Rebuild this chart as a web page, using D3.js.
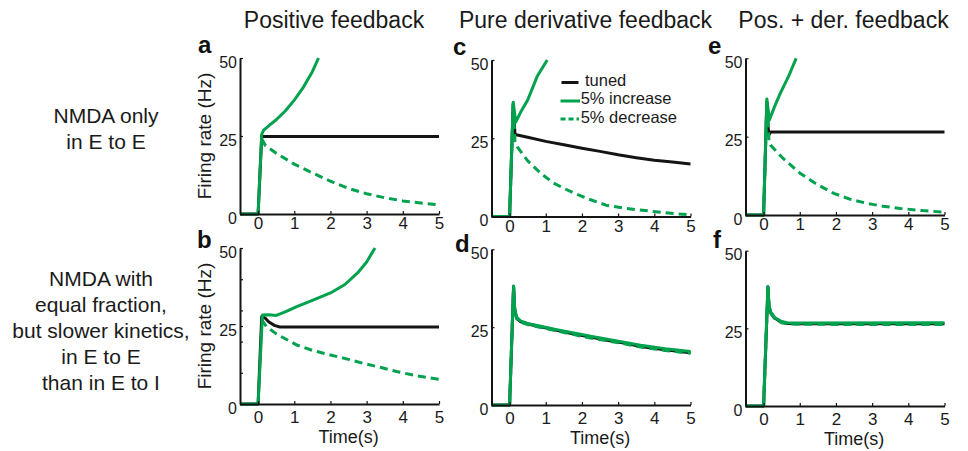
<!DOCTYPE html>
<html>
<head>
<meta charset="utf-8">
<script src="https://cdn.jsdelivr.net/npm/d3@7"></script>
<style>
  body { margin: 0; background: #fff; }
  svg { display: block; font-family: "Liberation Sans", Arial, sans-serif; }
</style>
</head>
<body>
<div id="chart-area"></div>
<script>
var width = 968;
var height = 451;
var green = "#00a24e";
var black = "#141414";

// text
var colTitles = ["Positive feedback", "Pure derivative feedback", "Pos. + der. feedback"];
var rowLabels = [["NMDA only", "in E to E"],
                 ["NMDA with", "equal fraction,", "but slower kinetics,", "in E to E", "than in E to I"]];
var legendLabels = ["tuned", "5% increase", "5% decrease"];
var xTicks = [0, 1, 2, 3, 4, 5];
var yTicks = [0, 25, 50];
var yMinorTicks = [10, 20, 30, 40];

// [time (s), rate (Hz)]
var aTuned = [[-0.5,0],[0,0],[0.1,24.8],[0.2,24.8],[5,24.8]];
var aInc = [[-0.5,0],[0,0],[0.1,25.5],[0.15,26.8],[0.3,28.3],[0.5,30.2],[0.75,33],[1,36.5],[1.25,40.6],[1.5,45.6],[1.67,50]];
var aDec = [[0.1,24],[0.2,22],[0.5,19.5],[1,16],[1.5,13.2],[2,10.5],[2.5,8.2],[3,6.5],[3.5,5.2],[4,4.2],[4.5,3.5],[5,2.9]];

var cTuned = [[-0.5,0],[0,0],[0.1,36],[0.15,26.2],[0.5,25.3],[1,24],[1.5,22.9],[2,21.8],[2.5,20.8],[3,19.7],[3.5,18.8],[4,18],[4.5,17.4],[5,16.8]];
var cInc = [[-0.5,0],[0,0],[0.1,36.5],[0.17,30.2],[0.3,33.2],[0.5,37.2],[0.76,44.7],[1.04,50]];
var cDec = [[0,0],[0.1,36],[0.15,24],[0.21,22.3],[0.5,17.8],[0.86,13.8],[1.2,10.8],[1.5,9],[1.78,7.5],[2.2,5.5],[2.7,3.5],[3.2,2.6],[3.6,2.1],[4.2,1.3],[5,0.5]];

var eTuned = [[-0.5,0],[0,0],[0.09,36],[0.14,25.5],[0.2,26.5],[5,26.5]];
var eInc = [[-0.5,0],[0,0],[0.09,37],[0.16,30.3],[0.3,34.5],[0.46,38.8],[0.7,44.5],[0.9,50]];
var eDec = [[0,0],[0.09,36],[0.15,23.5],[0.19,22.3],[0.5,18.5],[1.01,13.3],[1.5,9.6],[1.94,6.9],[2.4,5],[2.86,3.7],[3.3,2.8],[3.78,2.1],[4.4,1.4],[5,0.9]];

var bTuned = [[-0.5,0],[0,0],[0.1,28],[0.2,27.5],[0.3,26.3],[0.45,25.2],[0.6,24.7],[5,24.7]];
var bInc = [[-0.5,0],[0,0],[0.12,28.5],[0.3,28.6],[0.5,28.4],[0.75,29.5],[1.07,31.2],[1.5,33.2],[2,35.6],[2.4,38.3],[2.75,42],[3,45.5],[3.23,50]];
var bDec = [[0.1,27],[0.23,24.8],[0.5,22.5],[1.07,18.9],[1.5,17.2],[2,15.7],[2.5,14.3],[2.91,13],[3.4,11.7],[3.83,10.4],[4.4,9],[5,7.9]];

var dTuned = [[-0.5,0],[0,0],[0.11,38],[0.14,31],[0.19,28],[0.3,26.8],[0.5,26],[0.86,25.1],[1.3,24],[1.78,22.8],[2.2,21.9],[2.7,20.8],[3.2,19.8],[3.62,18.8],[4.3,17.7],[5,16.8]];
var dInc = [[-0.5,0],[0,0],[0.11,38.2],[0.14,31.2],[0.19,28.2],[0.3,27],[0.5,26.2],[0.86,25.3],[1.3,24.2],[1.78,23.1],[2.2,22.2],[2.7,21.1],[3.2,20.1],[3.62,19.2],[4.3,18.1],[5,17.2]];
var dDec = [[0,0],[0.11,37.8],[0.14,30.8],[0.19,27.8],[0.3,26.6],[0.5,25.8],[0.86,24.9],[1.3,23.8],[1.78,22.6],[2.2,21.6],[2.7,20.6],[3.2,19.6],[3.62,18.6],[4.3,17.5],[5,16.6]];

var fTuned = [[-0.5,0],[0,0],[0.12,38.3],[0.15,32],[0.2,30],[0.3,28.4],[0.4,27.6],[0.5,27],[0.65,26.6],[1,26.5],[5,26.5]];
var fInc = [[-0.5,0],[0,0],[0.12,38.5],[0.15,32.2],[0.2,30.2],[0.3,28.6],[0.4,27.8],[0.5,27.2],[0.65,26.8],[1,26.7],[5,26.8]];
var fDec = [[0,0],[0.12,38.1],[0.15,31.8],[0.2,29.8],[0.3,28.2],[0.4,27.4],[0.5,26.8],[0.65,26.4],[1,26.3],[5,26.2]];

var xDomain = [-0.5, 5];
var yDomain = [0, 50];

var panels = [
  {letter:"a", lx:198, ly:53,  left:240,   right:439,   top:58,    bottom:214, pad:3, tuned:aTuned, inc:aInc, dec:aDec, ylab:true},
  {letter:"c", lx:453, ly:55,  left:491.5, right:690.5, top:60,    bottom:216.5, pad:3, tuned:cTuned, inc:cInc, dec:cDec, legend:true},
  {letter:"e", lx:708, ly:54,  left:745.5, right:944.5, top:58.3,  bottom:215, pad:3, tuned:eTuned, inc:eInc, dec:eDec},
  {letter:"b", lx:197, ly:248, left:240,   right:439,   top:248,   bottom:404, pad:7, tuned:bTuned, inc:bInc, dec:bDec, ylab:true, xlab:true, minor:true},
  {letter:"d", lx:455, ly:252, left:491.5, right:690.5, top:249.3, bottom:405, pad:7, tuned:dTuned, inc:dInc, dec:dDec, xlab:true},
  {letter:"f", lx:713, ly:248, left:745.5, right:944.5, top:250.7, bottom:406, pad:7, tuned:fTuned, inc:fInc, dec:fDec, xlab:true}
];

var svg = d3.select("#chart-area")
  .append("svg")
    .attr("width", width)
    .attr("height", height);

// column titles
var titleX = [334, 585.5, 843.5];
colTitles.forEach(function(t, i) {
  svg.append("text")
    .attr("x", titleX[i])
    .attr("y", 28)
    .attr("text-anchor", "middle")
    .attr("font-size", "23px")
    .style("fill", "#1a1a1a")
    .text(t);
});

// row labels
var rowX = [106, 101];
var rowY = [122.7, 286];
rowLabels.forEach(function(lines, r) {
  var txt = svg.append("text")
    .attr("text-anchor", "middle")
    .attr("font-size", "21px")
    .style("fill", "#1a1a1a");
  lines.forEach(function(l, i) {
    txt.append("tspan")
      .attr("x", rowX[r])
      .attr("y", rowY[r] + i * 26)
      .text(l);
  });
});

panels.forEach(function(p) { drawPanel(p); });

function drawPanel(p) {
  var x = d3.scaleLinear().domain(xDomain).range([p.left, p.right]);
  var y = d3.scaleLinear().domain(yDomain).range([p.bottom, p.top]);
  var line = d3.line().x(function(d) { return x(d[0]); }).y(function(d) { return y(d[1]); });

  svg.append("path").datum(p.tuned)
    .attr("d", line).attr("fill", "none")
    .attr("stroke", black).attr("stroke-width", 3).attr("stroke-linejoin", "round");
  svg.append("path").datum(p.inc)
    .attr("d", line).attr("fill", "none")
    .attr("stroke", green).attr("stroke-width", 3).attr("stroke-linejoin", "round");
  svg.append("path").datum(p.dec)
    .attr("d", line).attr("fill", "none")
    .attr("stroke", green).attr("stroke-width", 3)
    .attr("stroke-dasharray", "8,5");

  var xAxis = svg.append("g")
    .attr("transform", "translate(0," + p.bottom + ")")
    .call(d3.axisBottom(x).tickValues(xTicks).tickFormat(d3.format("d"))
      .tickSizeInner(-3).tickSizeOuter(0).tickPadding(p.pad));
  var yAxis = svg.append("g")
    .attr("transform", "translate(" + p.left + ",0)")
    .call(d3.axisLeft(y).tickValues(yTicks).tickFormat(d3.format("d"))
      .tickSizeInner(-3).tickSizeOuter(0).tickPadding(3));
  if (p.minor) {
    svg.append("g")
      .attr("transform", "translate(" + p.left + ",0)")
      .call(d3.axisLeft(y).tickValues(yMinorTicks).tickSizeInner(-3).tickSizeOuter(0).tickFormat(""))
      .call(function(g) { g.select(".domain").remove(); })
      .selectAll("line").attr("stroke", black).attr("stroke-width", 1.2);
  }
  [xAxis, yAxis].forEach(function(g) {
    g.attr("font-family", null).attr("font-size", null);
    g.select(".domain").attr("stroke", black).attr("stroke-width", 2);
    g.selectAll(".tick line").attr("stroke", black).attr("stroke-width", 1.2);
    g.selectAll(".tick text").style("fill", "#1a1a1a");
  });
  xAxis.selectAll(".tick text").attr("font-size", "17px");
  yAxis.selectAll(".tick text").attr("font-size", "16px").attr("dy", "0.58em");

  svg.append("text")
    .attr("x", p.lx).attr("y", p.ly)
    .attr("font-size", "24px").attr("font-weight", "bold")
    .style("fill", "#111")
    .text(p.letter);

  if (p.ylab) {
    svg.append("text")
      .attr("transform", "translate(211," + ((p.top + p.bottom) / 2) + ") rotate(-90)")
      .attr("text-anchor", "middle")
      .attr("font-size", "19px")
      .style("fill", "#1a1a1a")
      .text("Firing rate (Hz)");
  }
  if (p.xlab) {
    svg.append("text")
      .attr("x", x(2.5)).attr("y", p.bottom + 39)
      .attr("text-anchor", "middle")
      .attr("font-size", "18px")
      .style("fill", "#1a1a1a")
      .text("Time(s)");
  }
  if (p.legend) {
    var ly = [82.5, 101, 119];
    var lg = svg.append("g");
    lg.append("line").attr("x1", 561.5).attr("x2", 578.5).attr("y1", ly[0]).attr("y2", ly[0])
      .attr("stroke", black).attr("stroke-width", 3);
    lg.append("line").attr("x1", 560.5).attr("x2", 580).attr("y1", ly[1]).attr("y2", ly[1])
      .attr("stroke", green).attr("stroke-width", 3);
    lg.append("line").attr("x1", 560.5).attr("x2", 579).attr("y1", ly[2]).attr("y2", ly[2])
      .attr("stroke", green).attr("stroke-width", 3).attr("stroke-dasharray", "5,3");
    var lx = [585, 580.7, 580.7];
    var lb = [85.7, 104.3, 122.9];
    legendLabels.forEach(function(t, i) {
      lg.append("text")
        .attr("x", lx[i]).attr("y", lb[i])
        .attr("font-size", "16.5px")
        .style("fill", "#1a1a1a")
        .text(t);
    });
  }
}
</script>
</body>
</html>
